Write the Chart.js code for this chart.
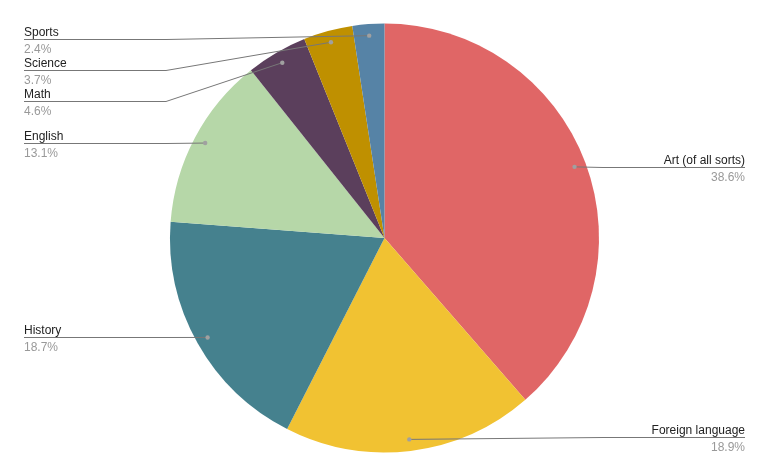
<!DOCTYPE html>
<html><head><meta charset="utf-8">
<script src="https://cdn.jsdelivr.net/npm/chart.js@4/dist/chart.umd.min.js"></script>
<style>html,body{margin:0;padding:0;background:#fff}#wrap{width:769px;height:476px}</style>
</head><body><div id="wrap"><canvas id="c" width="769" height="476"></canvas></div>
<script>
const categories = ["Art (of all sorts)", "Foreign language", "History", "English", "Math", "Science", "Sports"];
const values = [38.6, 18.9, 18.7, 13.1, 4.6, 3.7, 2.4];
const percentLabels = ["38.6%", "18.9%", "18.7%", "13.1%", "4.6%", "3.7%", "2.4%"];
const colors = ["#e06666", "#f1c232", "#45818e", "#b6d7a8", "#5b3f5c", "#bf9000", "#5683a6"];

const labelPlugin = {
  id: 'leaders',
  afterDatasetsDraw(chart) {
    const ctx = chart.ctx;
    const meta = chart.getDatasetMeta(0);
    const items = meta.data.map((arc, i) => {
      const p = arc.getProps(['x','y','startAngle','endAngle','outerRadius'], true);
      const mid = (p.startAngle + p.endAngle) / 2;
      const r = p.outerRadius * 0.946;
      return {i, dx: p.x + Math.cos(mid) * r, dy: p.y + Math.sin(mid) * r, right: Math.cos(mid) >= 0};
    });
    const minY = 39, maxY = 437, gap = 31;
    ['left','right'].forEach(side => {
      const list = items.filter(it => (side === 'right') === it.right).sort((a,b) => a.dy - b.dy);
      let prev = -Infinity;
      list.forEach(it => {
        let y = Math.max(it.dy, minY, prev + gap);
        y = Math.min(y, maxY);
        it.ly = Math.round(y) + 0.5;
        prev = y;
      });
    });
    ctx.save();
    ctx.font = '12px "Liberation Sans", Arial, sans-serif';
    items.forEach(it => {
      ctx.strokeStyle = '#777777';
      ctx.lineWidth = 1;
      ctx.beginPath();
      if (it.right) {
        ctx.moveTo(745, it.ly);
        ctx.lineTo(603, it.ly);
        ctx.lineTo(it.dx, it.dy);
      } else {
        ctx.moveTo(24, it.ly);
        ctx.lineTo(166, it.ly);
        ctx.lineTo(it.dx, it.dy);
      }
      ctx.stroke();
      ctx.fillStyle = '#a0a0a0';
      ctx.beginPath();
      ctx.arc(it.dx, it.dy, 2.2, 0, Math.PI * 2);
      ctx.fill();
      ctx.textAlign = it.right ? 'right' : 'left';
      const tx = it.right ? 745 : 24;
      ctx.textBaseline = 'alphabetic';
      ctx.fillStyle = '#222222';
      ctx.fillText(categories[it.i], tx, it.ly - 4);
      ctx.fillStyle = '#999999';
      ctx.fillText(percentLabels[it.i], tx, it.ly + 13);
    });
    ctx.restore();
  }
};

new Chart(document.getElementById('c'), {
  type: 'pie',
  data: {
    labels: categories,
    datasets: [{ data: values, backgroundColor: colors, borderWidth: 0 }]
  },
  options: {
    responsive: false,
    animation: false,
    layout: { padding: { top: 23.5, bottom: 23.5, left: 0, right: 0 } },
    plugins: { legend: { display: false }, tooltip: { enabled: false } }
  },
  plugins: [labelPlugin]
});
</script>
</body></html>
